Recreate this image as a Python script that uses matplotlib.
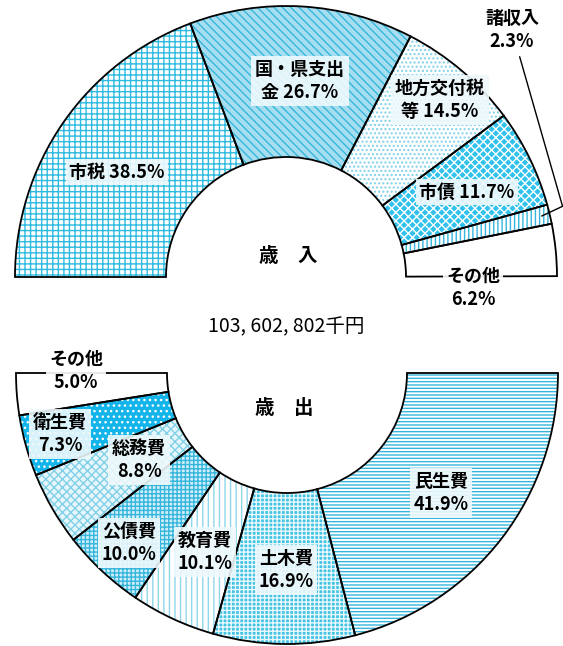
import numpy as np
import matplotlib
matplotlib.use("Agg")
import matplotlib.pyplot as plt

plt.rcParams['font.family'] = ['Noto Sans CJK JP', 'DejaVu Sans']
plt.rcParams['hatch.linewidth'] = 1.0

# 歳入 (上) と 歳出 (下) の構成比 (%)
rev_labels = ["市税 38.5%", "国・県支出\n金 26.7%", "地方交付税\n等 14.5%",
              "市債 11.7%", "諸収入\n2.3%", "その他\n6.2%"]
rev_pct = [38.5, 26.7, 14.5, 11.7, 2.3, 6.2]

exp_labels = ["民生費\n41.9%", "土木費\n16.9%", "教育費\n10.1%", "公債費\n10.0%",
              "総務費\n8.8%", "衛生費\n7.3%", "その他\n5.0%"]
exp_pct = [41.9, 16.9, 10.1, 10.0, 8.8, 7.3, 5.0]

total_text = "103, 602, 802千円"

W, H = 563, 646
R, R_IN = 271, 120


def px(x, y):
    # coordenadas en píxeles (origen arriba a la izquierda) -> datos
    return x, H - y


fig = plt.figure(figsize=(W / 100, H / 100), dpi=100)
ax = fig.add_axes([0, 0, 1, 1])

# estilos de relleno: (color de fondo, trama, color de trama)
rev_style = [("white", "+++", "#2fbbe0"),
             ("#a6def0", "\\\\\\\\", "#36b6dc"),
             ("white", "....", "#7fd0e8"),
             ("#30c2ec", "xxxx", "white"),
             ("white", "||||", "#36b6dc"),
             ("white", None, "white")]
exp_style = [("white", "-----", "#36b6dc"),
             ("#45c3e4", "++++", "#e8f8fc"),
             ("white", "|||", "#8fd6ea"),
             ("#d0eff8", "++++", "#36b6dc"),
             ("#e6f6fb", "xxxx", "#7fd0e8"),
             ("#12b4ea", "...", "white"),
             ("white", None, "white")]


def half_donut(values, center, start, styles):
    vals = np.array(values) / 200.0
    wedges, _ = ax.pie(vals, radius=R, center=center, startangle=start,
                       counterclock=False, normalize=False,
                       wedgeprops=dict(width=R - R_IN, linewidth=0))
    for w, (fc, hatch, hc) in zip(wedges, styles):
        w.set_facecolor(fc)
        w.set_edgecolor(hc)
        w.set_linewidth(0)
        if hatch:
            w.set_hatch(hatch)
    # contorno negro
    ax.pie(vals, radius=R, center=center, startangle=start,
           counterclock=False, normalize=False,
           wedgeprops=dict(width=R - R_IN, fill=False, edgecolor="black",
                           linewidth=1.3))
    return wedges


top_c = px(286, 277)
bot_c = px(287, 373)
half_donut(rev_pct, top_c, 180, rev_style)
half_donut(exp_pct, bot_c, 0, exp_style)

ax.set_xlim(0, W)
ax.set_ylim(0, H)
ax.set_aspect("equal")
ax.axis("off")

box = dict(boxstyle="square,pad=0.2", facecolor="#eef9fc", edgecolor="none", alpha=0.9)
box_w = dict(boxstyle="square,pad=0.15", facecolor="white", edgecolor="none", alpha=0.9)
tkw = dict(ha="center", va="center", fontsize=13, fontweight="bold", linespacing=1.3, zorder=5)

# posiciones de las etiquetas (píxeles)
rev_pos = [(117, 172), (300, 81), (440, 100), (467, 192), None, (473, 288)]
exp_pos = [(441, 493), (286, 570), (205, 552), (129, 543), (139, 460), (60, 434), (76, 371)]

for lab, pos in zip(rev_labels, rev_pos):
    if pos is None:
        continue
    b = box_w if lab.startswith("その他") else box
    ax.text(*px(*pos), lab, bbox=b, **tkw)

for lab, pos in zip(exp_labels, exp_pos):
    b = box_w if lab.startswith("その他") else box
    ax.text(*px(*pos), lab, bbox=b, **tkw)

# 諸収入: etiqueta con línea de referencia
i = 4
a0 = 180 - sum(rev_pct[:i]) * 1.8
mid = np.deg2rad(a0 - rev_pct[i] * 0.9)
tip = (top_c[0] + 0.97 * R * np.cos(mid), top_c[1] + 0.97 * R * np.sin(mid))
ax.annotate(rev_labels[i], xy=tip, xytext=px(512, 30), textcoords="data",
            arrowprops=dict(arrowstyle="-", color="black", lw=1.0,
                            connectionstyle="angle,angleA=-74,angleB=25,rad=0",
                            shrinkA=2, shrinkB=0),
            **tkw)

ax.text(*px(288, 257), "歳　入", fontsize=14, fontweight="bold", ha="center", va="center")
ax.text(*px(284, 408), "歳　出", fontsize=14, fontweight="bold", ha="center", va="center")
ax.text(*px(286, 327), total_text, fontsize=14, ha="center", va="center")

plt.savefig("out.png", dpi=100)
plt.close()
